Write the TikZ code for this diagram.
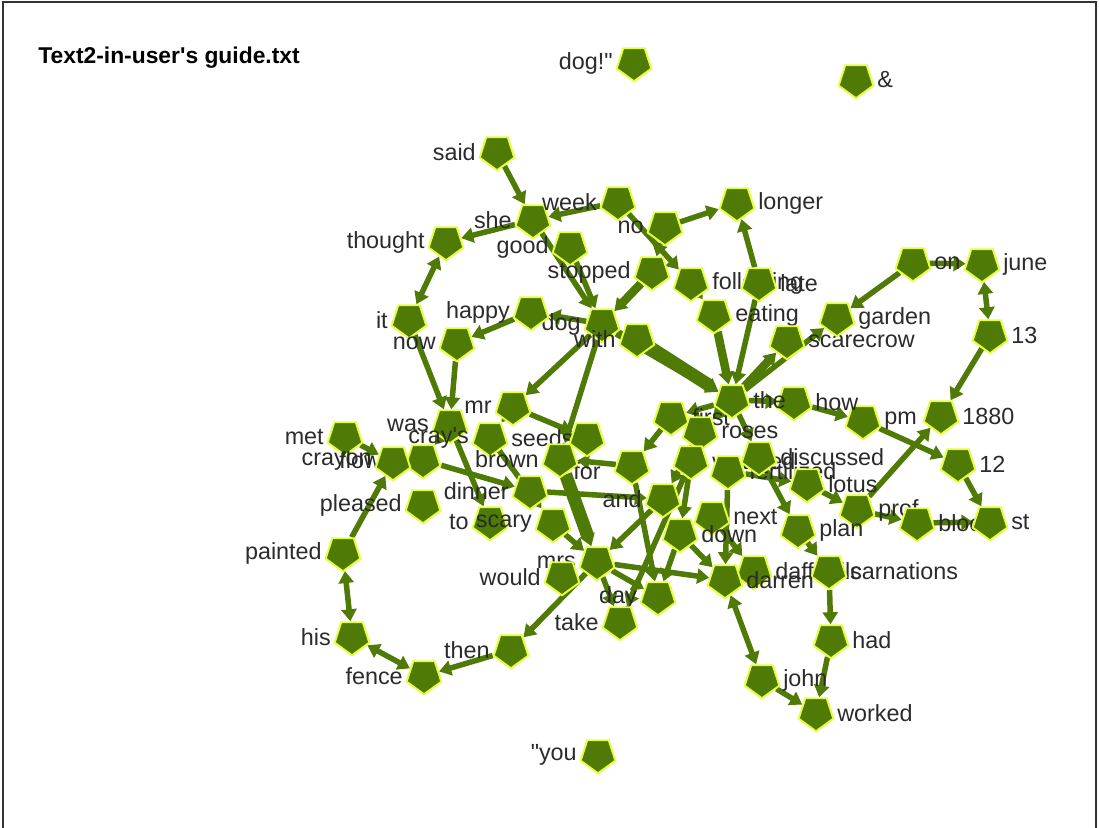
\documentclass[tikz,border=0pt]{standalone}
\usepackage{fontspec}
\usepackage{tikz}
\usetikzlibrary{shapes.geometric, arrows.meta, backgrounds}

\newfontfamily\wordfont{Liberation Sans}[Ligatures=TeXOff]

\definecolor{leaf}{HTML}{4F7A06}
\definecolor{rim}{HTML}{E4FF3C}
\definecolor{ink}{HTML}{2B2B2B}

\tikzset{
	word/.style={regular polygon, regular polygon sides=5, shape border rotate=180,
		fill=leaf, draw=rim, line width=1.1pt, minimum size=0.73cm, inner sep=0pt},
	tag/.style={font=\wordfont\fontsize{13.3}{15}\selectfont, text=ink, inner sep=2.5pt},
	link/.style={draw=leaf, line width=0.11cm, -{Triangle[length=0.24cm,width=0.3cm]}},
	dual/.style={link, {Triangle[length=0.24cm,width=0.3cm]}-{Triangle[length=0.24cm,width=0.3cm]}},
	heavy/.style={link, line width=0.17cm},
	heavier/.style={link, line width=0.26cm}
}

\begin{document}
\begin{tikzpicture}[x=0.02cm, y=-0.02cm]
		
		\useasboundingbox (0,0) rectangle (1099,828);
		
		% Frame and title
		\draw[black!80, line width=0.03cm] (3,828) -- (3,2) -- (1096,2) -- (1096,828);
		\node[anchor=west, font=\wordfont\bfseries\fontsize{13}{15}\selectfont, inner sep=0pt] (Title) at (38,58) {Text2-in-user's guide.txt};
		
		% Loose words
		\node[word, label={[tag]left:dog!"}] (Dog) at (634,63) {};
		\node[word, label={[tag]right:\&}] (Amp) at (856,80) {};
		\node[word, label={[tag]left:"you}] (You) at (598,755) {};
		
		% Upper left
		\node[word, label={[tag]left:said}] (Said) at (497,152) {};
		\node[word, label={[tag]left:she}] (She) at (533,220) {};
		\node[word, label={[tag]left:week}] (Week) at (618,202) {};
		\node[word, label={[tag]left:thought}] (Thought) at (446,242) {};
		\node[word, label={[tag]left:good}] (Good) at (570,247) {};
		\node[word, label={[tag]left:no}] (No) at (665,227) {};
		\node[word, label={[tag]left:stopped}] (Stopped) at (652,272) {};
		\node[word, label={[tag]left:it}] (It) at (409,320) {};
		\node[word, label={[tag]left:now}] (Now) at (457,343) {};
		\node[word, label={[tag]left:dog}] (Dogg) at (602,324) {};
		\node[word, label={[tag]left:happy}] (Happy) at (531,312) {};
		\node[word, label={[tag]left:with}] (With) at (637,339) {};
		
		% Upper right
		\node[word, label={[tag]right:longer}] (Longer) at (737,203) {};
		\node[word, label={[tag]right:following}] (Foll) at (691,283) {};
		\node[word, label={[tag]right:late}] (Late) at (759,283) {};
		\node[word, label={[tag]right:eating}] (Eating) at (714,315) {};
		\node[word, label={[tag]right:scarecrow}] (Scarecrow) at (787,341) {};
		\node[word, label={[tag]right:garden}] (Garden) at (837,318) {};
		\node[word, label={[tag]right:on}] (On) at (913,263) {};
		\node[word, label={[tag]right:june}] (June) at (982,264) {};
		\node[word, label={[tag]right:13}] (Thirteen) at (990,335) {};
		\node[word, label={[tag]right:1880}] (Year) at (941,416) {};
		\node[word, label={[tag]right:12}] (Twelve) at (958,464) {};
		\node[word, label={[tag]right:pm}] (Pm) at (863,421) {};
		
		% Middle
		\node[word, label={[tag]right:first}] (First) at (671,417) {};
		\node[word, label={[tag]right:how}] (How) at (794,402) {};
		\node[word, label={[tag]right:the}] (The) at (732,400) {};
		\node[word, label={[tag]right:roses}] (Roses) at (700,432) {};
		\node[word] (Hub) at (632,466) {};
		\node[word, label={[tag]right:watered}] (Watered) at (691,461) {};
		\node[word, label={[tag]right:fertilized}] (Fert) at (728,471) {};
		\node[word, label={[tag]right:discussed}] (Discussed) at (759,457) {};
		\node[word, label={[tag]right:lotus}] (Lotus) at (807,484) {};
		\node[word, label={[tag]right:prof}] (Prof) at (857,510) {};
		\node[word, label={[tag]right:bloom}] (Bloom) at (917,523) {};
		\node[word, label={[tag]right:st}] (St) at (990,522) {};
		\node[word, label={[tag]left:and}] (And) at (663,499) {};
		\node[word, label={[tag]right:next}] (Next) at (712,517) {};
		\node[word, label={[tag]right:down}] (Down) at (680,534) {};
		\node[word, label={[tag]right:plan}] (Plan) at (798,530) {};
		
		% Lower right
		\node[word, label={[tag]right:daffodils}] (Daff) at (754,571) {};
		\node[word, label={[tag]right:carnations}] (Carnations) at (829,571) {};
		\node[word, label={[tag]right:darren}] (Darren) at (725,580) {};
		\node[word, label={[tag]right:had}] (Had) at (831,640) {};
		\node[word, label={[tag]right:john}] (John) at (762,680) {};
		\node[word, label={[tag]right:worked}] (Worked) at (816,713) {};
		
		% Left side
		\node[word, label={[tag]left:mr}] (Mr) at (513,407) {};
		\node[word, label={[tag]left:was}] (Was) at (450,425) {};
		\node[word, label={[tag]left:cray's}, label={[tag]right:seeds}] (Crays) at (490,438) {};
		\node[word, label={[tag]below:for}] (For) at (587,438) {};
		\node[word, label={[tag]left:brown}] (Brown) at (560,459) {};
		\node[word, label={[tag]left:met}] (Met) at (345,437) {};
		\node[word, label={[tag]left:flower}] (Flower) at (423,460) {};
		\node[word, label={[tag]left:crayon}] (Crayon) at (393,462) {};
		\node[word, label={[tag]left:dinner}] (Dinner) at (530,491) {};
		\node[word, label={[tag]left:to}] (To) at (490,522) {};
		\node[word, label={[tag]left:pleased}] (Pleased) at (423,505) {};
		\node[word, label={[tag]left:scary}] (Scary) at (553,524) {};
		\node[word, label={[tag]left:painted}] (Painted) at (343,553) {};
		\node[word, label={[tag]left:mrs}] (Mrs) at (597,562) {};
		\node[word, label={[tag]left:would}] (Would) at (562,577) {};
		\node[word, label={[tag]left:day}] (Day) at (658,597) {};
		\node[word, label={[tag]left:take}] (Take) at (620,622) {};
		\node[word, label={[tag]left:then}] (Then) at (511,650) {};
		\node[word, label={[tag]left:his}] (His) at (352,637) {};
		\node[word, label={[tag]left:fence}] (Fence) at (424,676) {};
		
		% Links, kept behind the words
		\begin{pgfonlayer}{background}
		
		% upper left
		\draw[link] (Said) -- (She);
		\draw[link] (Week) -- (She);
		\draw[link] (She) -- (Thought);
		\draw[link] (She) -- (Dogg);
		\draw[link] (Good) -- (Dogg);
		\draw[dual] (Thought) -- (It);
		\draw[link] (It) -- (Was);
		\draw[link] (Now) -- (Was);
		\draw[link] (Happy) -- (Now);
		\draw[link] (Dogg) -- (Happy);
		\draw[link] (Dogg) -- (Mr);
		\draw[link] (Dogg) -- (Brown);
		
		% top
		\draw[link] (No) -- (Stopped);
		\draw[link] (No) -- (Longer);
		\draw[link] (Week) -- (Foll);
		\draw[link] (Foll) -- (Eating);
		\draw[link] (Late) -- (Longer);
		\draw[link] (Late) -- (The);
		\draw[heavy] (Eating) -- (The);
		\draw[heavy] (Stopped) -- (Dogg);
		\draw[heavy] (Dogg) -- (The);
		\draw[heavier] (With) -- (The);
		
		% right
		\draw[heavy] (The) -- (Scarecrow);
		\draw[link] (The) -- (Garden);
		\draw[link] (On) -- (Garden);
		\draw[link] (On) -- (June);
		\draw[dual] (June) -- (Thirteen);
		\draw[link] (Thirteen) -- (Year);
		\draw[link] (Prof) -- (Year);
		\draw[link] (The) -- (How);
		\draw[link] (How) -- (Pm);
		\draw[link] (Pm) -- (Twelve);
		\draw[link] (Twelve) -- (St);
		\draw[link] (Bloom) -- (St);
		\draw[link] (Prof) -- (Bloom);
		\draw[link] (Lotus) -- (Prof);
		\draw[link] (Fert) -- (Lotus);
		\draw[link] (Discussed) -- (Plan);
		\draw[link] (Plan) -- (Carnations);
		\draw[link] (Carnations) -- (Had);
		\draw[link] (Had) -- (Worked);
		\draw[link] (John) -- (Worked);
		\draw[dual] (Darren) -- (John);
		
		% middle
		\draw[link] (The) -- (Roses);
		\draw[link] (The) -- (First);
		\draw[link] (The) -- (Discussed);
		\draw[link] (Roses) -- (Watered);
		\draw[link] (First) -- (Hub);
		\draw[link] (Hub) -- (Brown);
		\draw[link] (Roses) -- (And);
		\draw[link] (And) -- (Mrs);
		\draw[link] (Watered) -- (Down);
		\draw[link] (Down) -- (Day);
		\draw[link] (Down) -- (Darren);
		\draw[link] (Next) -- (Daff);
		\draw[link] (Fert) -- (Darren);
		\draw[link] (Watered) -- (Take);
		\draw[link] (Hub) -- (Day);
		
		% left and bottom
		\draw[link] (Mr) -- (Crays);
		\draw[link] (Mr) -- (For);
		\draw[heavier] (Brown) -- (Mrs);
		\draw[link] (Mrs) -- (Darren);
		\draw[link] (Mrs) -- (Then);
		\draw[link] (Mrs) -- (Day);
		\draw[link] (Mrs) -- (Take);
		\draw[link] (Then) -- (Fence);
		\draw[dual] (Fence) -- (His);
		\draw[dual] (His) -- (Painted);
		\draw[link] (Painted) -- (Crayon);
		\draw[link] (Met) -- (Crayon);
		\draw[link] (Was) -- (Flower);
		\draw[link] (Flower) -- (Dinner);
		\draw[link] (Was) -- (To);
		\draw[link] (Crays) -- (Scary);
		\draw[link] (Scary) -- (Mrs);
		\draw[link] (Dinner) -- (And);
		
		\end{pgfonlayer}
		
	\end{tikzpicture}
\end{document}
